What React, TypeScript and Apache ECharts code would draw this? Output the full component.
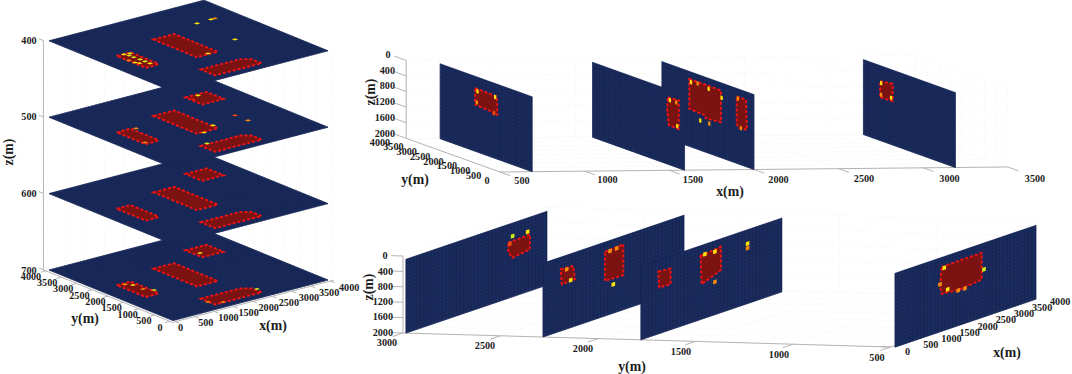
import React, { useEffect, useRef } from "react";
import * as echarts from "echarts";

// ---------- axis ticks ----------
const stackLevels = [400, 500, 600, 700];
const stackXTicks = [0, 500, 1000, 1500, 2000, 2500, 3000, 3500, 4000];
const stackYTicks = [4000, 3500, 3000, 2500, 2000, 1500, 1000, 500, 0];
const frontXTicks = [500, 1000, 1500, 2000, 2500, 3000, 3500];
const frontYTicks = [4000, 3500, 3000, 2500, 2000, 1500, 1000, 500, 0];
const depthTicks = [0, 400, 800, 1200, 1600, 2000];
const sideYTicks = [3000, 2500, 2000, 1500, 1000, 500];
const sideXTicks = [0, 500, 1000, 1500, 2000, 2500, 3000, 3500, 4000];

// ---------- horizontal sections: [x, y] zones, [x, y, heat] hot cells ----------
const zoneLeft = [[480, 2420], [840, 2420], [840, 1520], [760, 1480], [480, 1480]];
const zoneMid = [[1690, 2745], [2230, 2745], [2230, 1340], [1690, 1340]];
const zoneRight = [[1280, 705], [2300, 705], [2480, 560], [2480, 240], [1280, 240]];
const zoneBack = [[2900, 3230], [3450, 3230], [3450, 2680], [2900, 2680]];
const hot400 = [
  [2996, 2972, 3], [3370, 2988, 3], [3470, 2988, 2], [2977, 1722, 3], [2013, 1388, 3],
  [788, 2372, 4], [655, 2400, 3], [690, 2280, 4], [700, 2140, 4], [714, 1957, 4], [717, 1800, 4], [717, 1640, 3],
  [520, 1875, 3], [500, 2050, 2], [560, 1780, 3],
];
const hot500 = [
  [936, 2364, 2], [538, 1576, 2], [2262, 1537, 3], [1851, 1313, 3], [1474, 746, 4],
  [2993, 1741, 1], [3005, 1336, 2], [3182, 3171, 3], [2949, 3041, 0],
];
const hot600: number[][] = [];
const hot700 = [
  [3028, 2914, 3], [742, 2219, 3], [640, 2350, 2], [746, 1900, 2], [880, 1713, 4], [2537, 462, 4], [1266, 454, 2], [1502, 265, 2],
];

// ---------- planes of constant x: [y, z] ----------
const frontPlaneX = [3190, 2000, 1590, 690];
const front3190Zone = [[3274, 479], [2726, 431], [2726, 877], [3274, 890]];
const front3190Hot = [[3230, 521, 3], [2796, 805, 3], [3230, 818, 2]];
const front2000ZoneA = [[2813, 269], [1435, 277], [1435, 1090], [2100, 1130], [2100, 1060], [2813, 1040]];
const front2000ZoneB = [[750, 287], [348, 287], [304, 1046], [640, 1067], [750, 1000]];
const front2000Hot = [
  [2739, 341, 3], [2448, 313, 2], [1970, 349, 3], [2335, 1238, 3], [1943, 1233, 2], [1404, 459, 3],
  [565, 1062, 2], [700, 330, 2],
];
const front1590Zone = [[726, 290], [248, 256], [248, 1000], [683, 990], [760, 640]];
const front1590Hot = [[639, 341, 3], [361, 341, 2], [317, 938, 3]];
const front690Zone = [[2480, 380], [1530, 400], [1510, 860], [1640, 900], [1800, 830], [2480, 805]];
const front690Hot = [[2378, 444, 3], [1609, 426, 3], [2404, 731, 2], [1652, 844, 1]];

// ---------- planes of constant y: [x, z] ----------
const sidePlaneY = [2985, 2282, 1780, 477];
const side2985Zone = [[2842, 558], [3444, 532], [3444, 922], [2953, 984], [2842, 800]];
const side2985Hot = [[2964, 423, 4], [3381, 444, 3], [2889, 600, 1]];
const side2282ZoneA = [[492, 397], [842, 423], [889, 784], [519, 797]];
const side2282ZoneB = [[1722, 330], [2231, 301], [2231, 1099], [1722, 1091]];
const side2282Hot = [[658, 452, 2], [769, 764, 3], [1861, 358, 2], [2047, 348, 2], [1953, 1252, 3]];
const side1780ZoneA = [[481, 379], [825, 410], [825, 816], [508, 803]];
const side1780ZoneB = [[1658, 345], [2222, 291], [2222, 896], [1686, 1091]];
const side1780Hot = [[1778, 340, 3], [2056, 361, 3], [2056, 1148, 2], [2964, 442, 3], [2964, 562, 2]];
const side477Zone = [[1297, 327], [2408, 317], [2408, 1008], [1800, 1080], [1297, 1029], [1250, 800]];
const side477Hot = [[1369, 377, 3], [2472, 769, 4], [1250, 769, 2], [1464, 966, 3], [1944, 1094, 2], [1758, 1086, 2]];

// ---------- projections of the three 3-D boxes ----------
type P3 = number[];
const project: Record<string, (p: P3) => number[]> = {
  stack: ([x, y, z]) => [173 + (155 * x) / 4000 - (124 * y) / 4000, 320.6 - (40.6 * x) / 4000 - (50.6 * y) / 4000 - (700 - z) * 0.764],
  front: ([x, y, z]) => [500 + (x - 500) * 0.1693 - (92 * y) / 4000, 172 - (x - 500) * 0.00167 - (33 * y) / 4000 - (2000 - z) * 0.039],
  side: ([x, y, z]) => [403 + (3000 - y) * 0.195 + x * 0.036, 333 + (3000 - y) * 0.0056 - x * 0.01225 - (2000 - z) * 0.0385],
};

const NAVY = "#1b2c5e";
const GRIDLINE = "#14234f";
const AXIS = "#b4b4b4";
const WALL = "#eeeeee";
const ZONE_FILL = "#7b1313";
const ZONE_EDGE = "#f31212";
const HEAT = ["#e01a10", "#f04a0c", "#f98a0a", "#fbe30a", "#d8ee1a"];
const INK = "#1c1c1c";
const FONT = '"Liberation Serif", "Times New Roman", serif';
const TICK_SIZE = 10.2;
const TITLE_SIZE = 13.8;

type Mark =
  | { kind: "poly"; panel: string; pts: P3[]; style: any }
  | { kind: "line"; panel: string; pts: P3[]; style: any }
  | { kind: "text"; pos: number[]; text: string; size: number; align: string; rot?: number };

const marks: Mark[] = [];
const seg = (panel: string, a: P3, b: P3, stroke: string, lineWidth = 1, lineDash?: number[]) =>
  marks.push({ kind: "line", panel, pts: [a, b], style: { stroke, lineWidth, lineDash, fill: "none" } });
const fillPoly = (panel: string, pts: P3[], style: any) => marks.push({ kind: "poly", panel, pts, style });
const label = (pos: number[], text: string, size = TICK_SIZE, align = "center", rot?: number) =>
  marks.push({ kind: "text", pos, text, size, align, rot });
const labels = (ticks: number[], a: number[], b: number[], align = "center") =>
  ticks.forEach((t, i) => {
    const k = i / (ticks.length - 1);
    label([a[0] + (b[0] - a[0]) * k, a[1] + (b[1] - a[1]) * k], String(t), TICK_SIZE, align);
  });
const range = (lo: number, hi: number, step: number) => {
  const out: number[] = [];
  for (let v = lo; v <= hi + 1e-6; v += step) out.push(v);
  return out;
};

const plate = (panel: string, corners: P3[], linesA: [P3, P3][], linesB: [P3, P3][], zones: P3[][], hots: P3[][]) => {
  fillPoly(panel, corners, { fill: NAVY, stroke: NAVY, lineWidth: 0.5 });
  linesA.concat(linesB).forEach(([a, b]) => seg(panel, a, b, GRIDLINE, 0.5));
  zones.forEach((z) => fillPoly(panel, z, { fill: ZONE_FILL, stroke: ZONE_EDGE, lineWidth: 1.9, lineDash: [3, 2] }));
  hots.forEach((h) => fillPoly(panel, h.slice(0, 4), { fill: HEAT[h[4] as any] }));
};

// ---------- stacked sections ----------
const stackLo = -80;
const stackHi = 4080;
range(0, 4000, 500).forEach((v) => {
  seg("stack", [v, stackHi, 400], [v, stackHi, 700], WALL, 0.7, [1, 2]);
  seg("stack", [stackHi, v, 400], [stackHi, v, 700], WALL, 0.7, [1, 2]);
});
const stackHotMap: Record<number, number[][]> = { 400: hot400, 500: hot500, 600: hot600, 700: hot700 };
[...stackLevels].reverse().forEach((lv) => {
  const zones = lv === 400 ? [zoneLeft, zoneMid, zoneRight] : [zoneBack, zoneLeft, zoneMid, zoneRight];
  const g = range(0, 4000, 100);
  const d = 45;
  plate(
    "stack",
    [[0, 0, lv], [4000, 0, lv], [4000, 4000, lv], [0, 4000, lv]],
    g.map((v) => [[v, 0, lv], [v, 4000, lv]] as [P3, P3]),
    g.map((v) => [[0, v, lv], [4000, v, lv]] as [P3, P3]),
    zones.map((z) => z.map(([x, y]) => [x, y, lv])),
    stackHotMap[lv].map(([x, y, h]) => [[x - d, y - d, lv], [x + d, y - d, lv], [x + d, y + d, lv], [x - d, y + d, lv], h] as any)
  );
});
seg("stack", [stackLo, stackHi, 400], [stackLo, stackHi, 700], AXIS);
seg("stack", [stackLo, stackHi, 700], [stackLo, stackLo, 700], AXIS);
seg("stack", [stackLo, stackLo, 700], [stackHi, stackLo, 700], AXIS);
stackLevels.forEach((lv) => seg("stack", [stackLo, stackHi, lv], [stackLo, stackHi + 150, lv], AXIS));
stackYTicks.forEach((t) => seg("stack", [stackLo, t, 700], [stackLo - 130, t, 700], AXIS));
stackXTicks.forEach((t) => seg("stack", [t, stackLo, 700], [t, stackLo - 130, 700], AXIS));
labels(stackLevels.map((v) => v), [29, 40], [29, 270]);
labels(stackYTicks, [31, 276], [160, 327]);
labels(stackXTicks, [178, 327], [339, 287], "left");
label([8, 152], "z(m)", TITLE_SIZE, "center", Math.PI / 2);
label([85, 318], "y(m)", TITLE_SIZE);
label([273, 325], "x(m)", TITLE_SIZE);

// ---------- planes of constant x ----------
const fLoX = 500;
const fHiX = 3500;
const fHiY = 4080;
frontXTicks.forEach((v) => {
  seg("front", [v, fHiY, 0], [v, fHiY, 2000], WALL, 0.7, [1, 2]);
  seg("front", [v, 0, 2000], [v, fHiY, 2000], WALL, 0.7, [1, 2]);
});
depthTicks.forEach((z) => {
  seg("front", [fLoX, fHiY, z], [fHiX, fHiY, z], WALL, 0.7, [1, 2]);
  seg("front", [fHiX, 0, z], [fHiX, fHiY, z], WALL, 0.7, [1, 2]);
});
frontYTicks.forEach((y) => {
  seg("front", [fLoX, y, 2000], [fHiX, y, 2000], WALL, 0.7, [1, 2]);
  seg("front", [fHiX, y, 0], [fHiX, y, 2000], WALL, 0.7, [1, 2]);
});
seg("front", [fLoX, fHiY, 0], [fLoX, fHiY, 2000], AXIS);
seg("front", [fLoX, fHiY, 2000], [fLoX, -60, 2000], AXIS);
seg("front", [fLoX, 0, 2000], [fHiX, 0, 2000], AXIS);
depthTicks.forEach((z) => seg("front", [fLoX, fHiY, z], [fLoX, fHiY + 520, z], AXIS));
frontXTicks.forEach((x) => seg("front", [x, 0, 2000], [x, -450, 2000], AXIS));
const frontSets: Record<number, { zones: number[][][]; hot: number[][] }> = {
  3190: { zones: [front3190Zone], hot: front3190Hot },
  2000: { zones: [front2000ZoneA, front2000ZoneB], hot: front2000Hot },
  1590: { zones: [front1590Zone], hot: front1590Hot },
  690: { zones: [front690Zone], hot: front690Hot },
};
frontPlaneX.forEach((x) => {
  const ys = range(0, 4000, 100);
  const zs = range(100, 2000, 100);
  plate(
    "front",
    [[x, 0, 77], [x, 4000, 77], [x, 4000, 2000], [x, 0, 2000]],
    ys.map((y) => [[x, y, 77], [x, y, 2000]] as [P3, P3]),
    zs.map((z) => [[x, 0, z], [x, 4000, z]] as [P3, P3]),
    frontSets[x].zones.map((zn) => zn.map(([y, z]) => [x, y, z])),
    frontSets[x].hot.map(([y, z, h]) => [[x, y - 50, z - 52], [x, y + 50, z - 52], [x, y + 50, z + 52], [x, y - 50, z + 52], h] as any)
  );
});
labels(depthTicks.slice(1), [395, 70], [395, 133], "right");
label([388, 54], "0");
labels(frontYTicks, [380, 142], [487, 180]);
labels(frontXTicks, [522, 180], [1035, 178]);
label([370, 92], "z(m)", TITLE_SIZE, "center", Math.PI / 2);
label([415, 179], "y(m)", TITLE_SIZE);
label([730, 191], "x(m)", TITLE_SIZE);

// ---------- planes of constant y ----------
const sLoY = 3000;
const sHiY = 500;
const sHiX = 4000;
sideYTicks.forEach((y) => {
  seg("side", [sHiX, y, 0], [sHiX, y, 2000], WALL, 0.7, [1, 2]);
  seg("side", [0, y, 2000], [sHiX, y, 2000], WALL, 0.7, [1, 2]);
});
depthTicks.forEach((z) => {
  seg("side", [sHiX, sLoY, z], [sHiX, sHiY, z], WALL, 0.7, [1, 2]);
  seg("side", [0, sLoY, z], [sHiX, sLoY, z], WALL, 0.7, [1, 2]);
});
sideXTicks.forEach((x) => {
  seg("side", [x, sLoY, 2000], [x, sHiY, 2000], WALL, 0.7, [1, 2]);
  seg("side", [x, sLoY, 0], [x, sLoY, 2000], WALL, 0.7, [1, 2]);
});
seg("side", [0, sLoY, 0], [0, sLoY, 2000], AXIS);
seg("side", [0, sLoY, 2000], [0, sHiY, 2000], AXIS);
seg("side", [0, sHiY, 2000], [sHiX, sHiY, 2000], AXIS);
depthTicks.forEach((z) => seg("side", [0, sLoY, z], [0, sLoY + 60, z], AXIS));
sideYTicks.forEach((y) => seg("side", [0, y, 2000], [-280, y, 2000], AXIS));
sideXTicks.forEach((x) => seg("side", [x, sHiY, 2000], [x, sHiY + 55, 2000], AXIS));
const sideSets: Record<number, { zones: number[][][]; hot: number[][] }> = {
  2985: { zones: [side2985Zone], hot: side2985Hot },
  2282: { zones: [side2282ZoneA, side2282ZoneB], hot: side2282Hot },
  1780: { zones: [side1780ZoneA, side1780ZoneB], hot: side1780Hot },
  477: { zones: [side477Zone], hot: side477Hot },
};
sidePlaneY.forEach((y) => {
  const xs = range(0, 3900, 100);
  const zs = range(100, 2000, 100);
  plate(
    "side",
    [[0, y, 80], [3920, y, 80], [3920, y, 2000], [0, y, 2000]],
    xs.map((x) => [[x, y, 80], [x, y, 2000]] as [P3, P3]),
    zs.map((z) => [[0, y, z], [3920, y, z]] as [P3, P3]),
    sideSets[y].zones.map((zn) => zn.map(([x, z]) => [x, y, z])),
    sideSets[y].hot.map(([x, z, h]) => [[x - 50, y, z - 52], [x + 50, y, z - 52], [x + 50, y, z + 52], [x - 50, y, z + 52], h] as any)
  );
});
labels(depthTicks.slice(1), [393, 271], [393, 332], "right");
label([385, 255], "0");
labels(sideYTicks, [387, 342], [877, 357]);
labels(sideXTicks, [905, 351], [1050, 301], "left");
label([368, 287], "z(m)", TITLE_SIZE, "center", Math.PI / 2);
label([632, 366], "y(m)", TITLE_SIZE);
label([1007, 352], "x(m)", TITLE_SIZE);

const renderItem = (params: any, api: any) => {
  const m = marks[params.dataIndex];
  if (m.kind === "text") {
    const [x, y] = api.coord(m.pos);
    return {
      type: "text",
      x,
      y,
      rotation: m.rot || 0,
      style: {
        text: m.text,
        fill: INK,
        font: `bold ${m.size}px ${FONT}`,
        textAlign: m.align,
        textVerticalAlign: "middle",
      },
    };
  }
  const points = m.pts.map((p) => api.coord(project[m.panel](p)));
  if (m.kind === "line") {
    return { type: "polyline", shape: { points }, style: m.style };
  }
  return { type: "polygon", shape: { points }, style: m.style };
};

export default function App() {
  const ref = useRef<HTMLDivElement>(null);
  useEffect(() => {
    document.body.style.margin = "0";
    document.body.style.background = "#ffffff";
    const chart = echarts.init(ref.current!, undefined, { renderer: "svg" });
    chart.setOption({
      animation: false,
      backgroundColor: "#ffffff",
      grid: { left: 0, right: 0, top: 0, bottom: 0 },
      xAxis: { type: "value", min: 0, max: 1072, show: false },
      yAxis: { type: "value", min: 0, max: 374, inverse: true, show: false },
      series: [
        {
          type: "custom",
          coordinateSystem: "cartesian2d",
          clip: false,
          silent: true,
          progressive: 0,
          renderItem,
          data: marks.map((_, i) => [i, 0]),
        },
      ],
    });
    return () => chart.dispose();
  }, []);
  return <div ref={ref} style={{ width: 1072, height: 374, overflow: "hidden" }} />;
}
